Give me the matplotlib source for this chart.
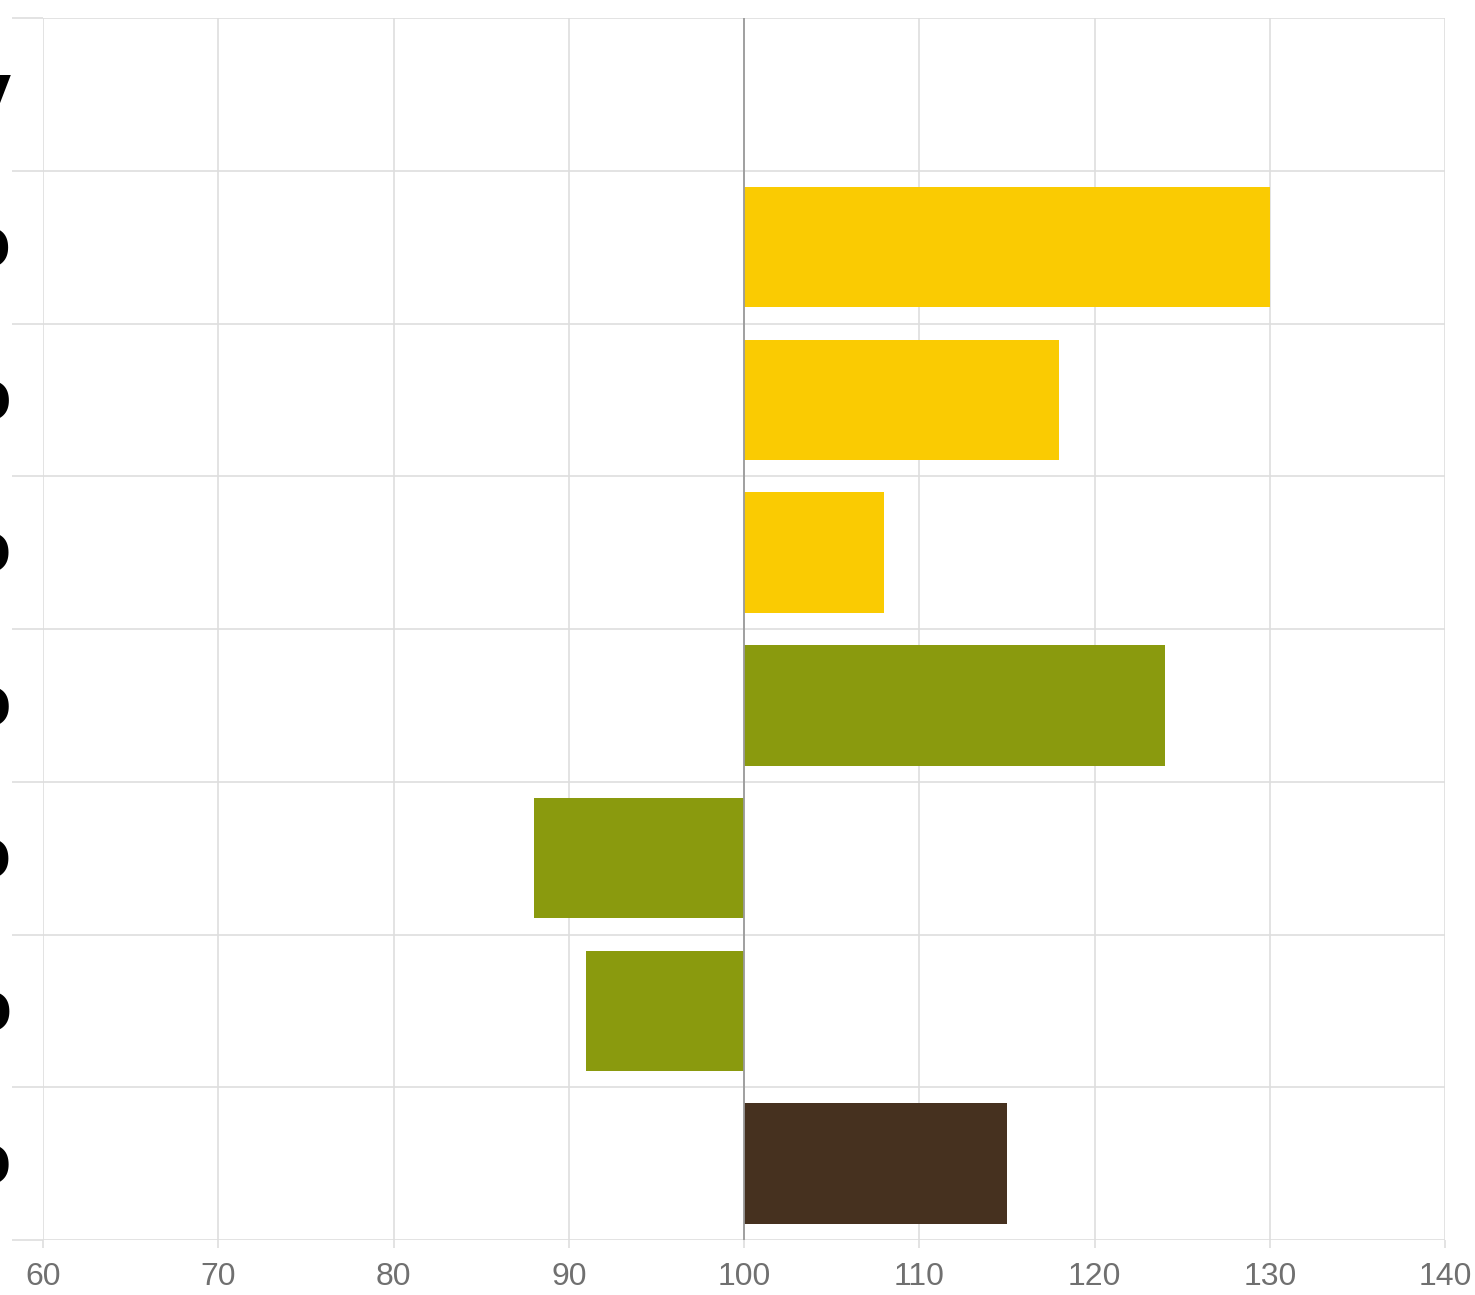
import matplotlib.pyplot as plt
from matplotlib.transforms import blended_transform_factory

# --- data ---
header = "Category"
categories = ["Grupo", "Modo", "Campo", "Mundo", "Sexo", "Texto", "Medio"]
values = [130, 118, 108, 124, 88, 91, 115]
colors = ["#FACB02", "#FACB02", "#FACB02", "#8A9A0E", "#8A9A0E", "#8A9A0E", "#46311F"]
baseline = 100
xticks = [60, 70, 80, 90, 100, 110, 120, 130, 140]

plt.rcParams["font.family"] = ["Liberation Sans", "DejaVu Sans"]

fig = plt.figure(figsize=(14.75, 12.95), dpi=100)
ax = fig.add_axes([43 / 1475, 1 - 1240 / 1295, (1445 - 43) / 1475, (1240 - 18) / 1295])

# rows: 0 = header row, 1..7 = bars
ypos = list(range(1, len(categories) + 1))
widths = [v - baseline for v in values]
ax.barh(ypos, widths, left=baseline, height=0.79, color=colors, zorder=3)

ax.set_xlim(60, 140)
ax.set_ylim(len(categories) + 0.5, -0.5)

# grid
ax.set_xticks(xticks)
ax.set_yticks([i - 0.5 for i in range(len(categories) + 2)])
ax.set_yticklabels([])
ax.grid(True, color="#dedede", linewidth=1.2, zorder=0)
ax.axvline(baseline, color="#9a9a9a", linewidth=1.3, zorder=4)
for s in ax.spines.values():
    s.set_visible(False)

ax.tick_params(axis="x", length=6, color="#dedede", width=1.2, pad=10,
               labelsize=23, labelcolor="#707070")
ax.tick_params(axis="y", length=22, color="#dedede", width=1.2)

# row labels (cut off at the left edge of the figure)
tr = blended_transform_factory(fig.transFigure, ax.transData)
labels = [header] + categories
for i, lab in enumerate(labels):
    ax.text(12 / 1475, i + 0.13, lab, transform=tr, ha="right", va="baseline",
            fontsize=54, fontweight="bold", color="black", clip_on=False)

fig.savefig("out.png", dpi=100)
